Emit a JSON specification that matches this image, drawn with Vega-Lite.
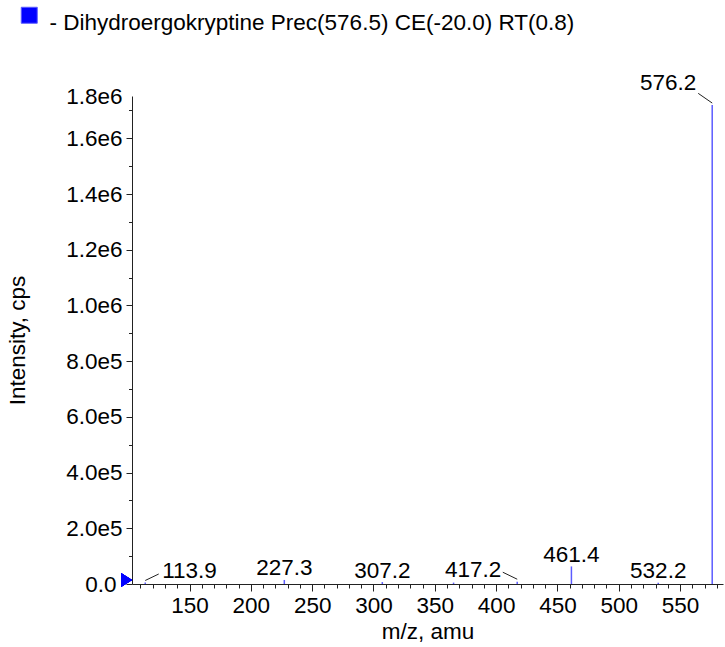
{
  "$schema": "https://vega.github.io/schema/vega-lite/v6.json",
  "width": 591,
  "height": 488,
  "autosize": {"type": "none"},
  "padding": {"left": 132, "top": 96, "right": 2, "bottom": 63},
  "background": "white",
  "config": {"view": {"stroke": null}, "font": "Liberation Sans"},
  "resolve": {"axis": {"x": "independent", "y": "independent"}},
  "data": {
    "values": [
      {"mz": 113.9, "intensity": 5400, "label": "113.9"},
      {"mz": 227.3, "intensity": 14500, "label": "227.3"},
      {"mz": 307.2, "intensity": 7000, "label": "307.2"},
      {"mz": 365.3, "intensity": 5000, "label": ""},
      {"mz": 417.2, "intensity": 8500, "label": "417.2"},
      {"mz": 461.4, "intensity": 63100, "label": "461.4"},
      {"mz": 532.2, "intensity": 4500, "label": "532.2"},
      {"mz": 576.2, "intensity": 1719500, "label": "576.2"}
    ]
  },
  "layer": [
    {
      "mark": {"type": "point", "shape": "M-1.57,-1L0,0L-1.57,1Z", "size": 196, "filled": true, "color": "#0000ff", "opacity": 1, "yOffset": -4},
      "encoding": {
        "x": {
          "datum": 103.1, "type": "quantitative",
          "scale": {"domain": [103.1, 585], "nice": false, "zero": false},
          "axis": {
            "orient": "bottom", "title": null, "labels": false, "domain": false, "grid": false,
            "values": [110,120,130,140,160,170,180,190,210,220,230,240,260,270,280,290,310,320,330,340,360,370,380,390,410,420,430,440,460,470,480,490,510,520,530,540,560,570,580],
            "tickSize": 4, "tickColor": "#222"
          }
        },
        "y": {
          "datum": 0, "type": "quantitative",
          "scale": {"domain": [0, 1752000], "nice": false},
          "axis": {
            "orient": "left", "title": null, "labels": false, "domain": false, "grid": false,
            "values": [100000,300000,500000,700000,900000,1100000,1300000,1500000,1700000],
            "tickSize": 3.5, "tickColor": "#222"
          }
        }
      }
    },
    {
      "mark": {"type": "rule", "strokeWidth": 1.5},
      "encoding": {
        "x": {
          "field": "mz", "type": "quantitative",
          "axis": {
            "orient": "bottom",
            "title": "m/z, amu",
            "values": [150,200,250,300,350,400,450,500,550],
            "tickSize": 7,
            "labelOverlap": false, "labelFlush": false, "labelBound": false,
            "labelPadding": 3,
            "labelFont": "Liberation Sans", "labelFontSize": 22.5, "labelColor": "#000",
            "titleFont": "Liberation Sans", "titleFontSize": 22.5, "titleFontWeight": "normal", "titleColor": "#000",
            "titleY": 54, "titleBaseline": "alphabetic",
            "domainColor": "#222", "tickColor": "#222", "grid": false
          }
        },
        "y": {
          "field": "intensity", "type": "quantitative",
          "axis": {
            "orient": "left",
            "title": "Intensity, cps",
            "values": [0,200000,400000,600000,800000,1000000,1200000,1400000,1600000,1752000],
            "labelExpr": "datum.value == 0 ? '0.0' : replace(format(datum.value, '.1e'), 'e+', 'e')",
            "tickSize": 6,
            "tickOpacity": {"condition": {"test": "datum.value > 1740000", "value": 0}, "value": 1},
            "labelPadding": {"condition": {"test": "datum.value == 0", "value": 10}, "value": 4},
            "labelOverlap": false, "labelFlush": false, "labelBound": false,
            "labelFont": "Liberation Sans", "labelFontSize": 22.5, "labelColor": "#000",
            "titleFont": "Liberation Sans", "titleFontSize": 22.5, "titleFontWeight": "normal", "titleColor": "#000",
            "titleX": -115, "titleY": 244, "titleAngle": -90, "titleAlign": "center", "titleBaseline": "middle",
            "domainColor": "#222", "tickColor": "#222", "grid": false
          }
        },
        "y2": {"datum": 0},
        "color": {
          "datum": "- Dihydroergokryptine Prec(576.5) CE(-20.0) RT(0.8)",
          "type": "nominal",
          "scale": {"range": ["#5c5cff"]},
          "legend": {
            "title": null,
            "orient": "none",
            "legendX": -114,
            "legendY": -92,
            "symbolType": "square",
            "symbolSize": 256,
            "symbolFillColor": "#0000ff",
            "symbolStrokeColor": "#000033",
            "symbolStrokeWidth": 1,
            "labelOffset": 9,
            "labelFont": "Liberation Sans",
            "labelFontSize": 22.5,
            "labelColor": "#000",
            "labelLimit": 800,
            "encode": {
              "symbols": {"update": {"fill": {"value": "#0000ff"}, "stroke": {"value": "#000033"}, "strokeWidth": {"value": 1}}},
              "labels": {"update": {"dy": {"value": 8}}}
            }
          }
        }
      }
    },
    {
      "transform": [{"filter": "datum.label == '227.3' || datum.label == '307.2' || datum.label == '461.4' || datum.label == '532.2'"}],
      "mark": {"type": "text", "align": "center", "baseline": "alphabetic", "dy": -4.5, "fontSize": 22.5, "font": "Liberation Sans", "color": "#000"},
      "encoding": {
        "x": {"field": "mz", "type": "quantitative", "axis": null},
        "y": {"field": "intensity", "type": "quantitative", "axis": null},
        "text": {"field": "label"}
      }
    },
    {
      "transform": [{"filter": "datum.label == '113.9'"}],
      "mark": {"type": "text", "align": "left", "baseline": "alphabetic", "dx": 17, "dy": -4, "fontSize": 22.5, "font": "Liberation Sans", "color": "#000"},
      "encoding": {
        "x": {"field": "mz", "type": "quantitative", "axis": null},
        "y": {"field": "intensity", "type": "quantitative", "axis": null},
        "text": {"field": "label"}
      }
    },
    {
      "transform": [{"filter": "datum.label == '417.2'"}],
      "mark": {"type": "text", "align": "right", "baseline": "alphabetic", "dx": -16, "dy": -5, "fontSize": 22.5, "font": "Liberation Sans", "color": "#000"},
      "encoding": {
        "x": {"field": "mz", "type": "quantitative", "axis": null},
        "y": {"field": "intensity", "type": "quantitative", "axis": null},
        "text": {"field": "label"}
      }
    },
    {
      "transform": [{"filter": "datum.label == '576.2'"}],
      "mark": {"type": "text", "align": "right", "baseline": "alphabetic", "dx": -16, "dy": -15, "fontSize": 22.5, "font": "Liberation Sans", "color": "#000"},
      "encoding": {
        "x": {"field": "mz", "type": "quantitative", "axis": null},
        "y": {"field": "intensity", "type": "quantitative", "axis": null},
        "text": {"field": "label"}
      }
    },
    {
      "transform": [{"filter": "datum.label == '113.9'"}],
      "mark": {"type": "rule", "color": "#222", "strokeWidth": 1, "yOffset": -2, "x2Offset": 13.5, "y2Offset": -8.5},
      "encoding": {
        "x": {"field": "mz", "type": "quantitative", "axis": null},
        "x2": {"field": "mz"},
        "y": {"field": "intensity", "type": "quantitative", "axis": null},
        "y2": {"field": "intensity"}
      }
    },
    {
      "transform": [{"filter": "datum.label == '417.2'"}],
      "mark": {"type": "rule", "color": "#222", "strokeWidth": 1, "yOffset": -2.4, "x2Offset": -14.4, "y2Offset": -9.4},
      "encoding": {
        "x": {"field": "mz", "type": "quantitative", "axis": null},
        "x2": {"field": "mz"},
        "y": {"field": "intensity", "type": "quantitative", "axis": null},
        "y2": {"field": "intensity"}
      }
    },
    {
      "transform": [{"filter": "datum.label == '576.2'"}],
      "mark": {"type": "rule", "color": "#222", "strokeWidth": 1, "yOffset": -2, "x2Offset": -14, "y2Offset": -11.7},
      "encoding": {
        "x": {"field": "mz", "type": "quantitative", "axis": null},
        "x2": {"field": "mz"},
        "y": {"field": "intensity", "type": "quantitative", "axis": null},
        "y2": {"field": "intensity"}
      }
    }
  ]
}
